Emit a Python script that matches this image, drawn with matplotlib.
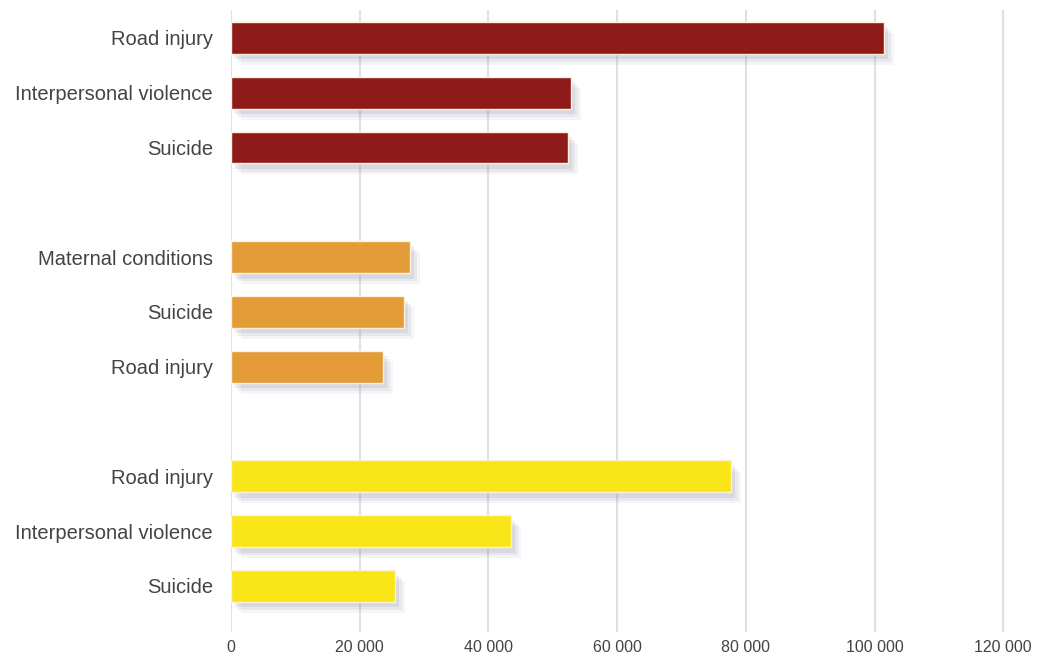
import matplotlib.pyplot as plt
import matplotlib.patheffects as pe
from matplotlib.ticker import FuncFormatter

# Deaths by cause, three groups (top to bottom)
labels = ["Road injury", "Interpersonal violence", "Suicide",
          "Maternal conditions", "Suicide", "Road injury",
          "Road injury", "Interpersonal violence", "Suicide"]
values = [101500, 52850, 52400,
          27850, 26900, 23650,
          77700, 43500, 25500]
positions = [0, 1, 2, 4, 5, 6, 8, 9, 10]
group_colors = ["#8e1a1a"] * 3 + ["#e39c37"] * 3 + ["#f9e618"] * 3
xticks = [0, 20000, 40000, 60000, 80000, 100000, 120000]

plt.rcParams['font.family'] = ['Liberation Sans', 'DejaVu Sans']

fig = plt.figure(figsize=(10.38, 6.62), dpi=100)
ax = fig.add_axes([0.2225, 0.0453, 0.775, 0.939])

# soft drop shadow below the bars
shadow = [pe.SimplePatchShadow(offset=(7, -8), shadow_rgbFace='#8888a0', alpha=0.08),
          pe.SimplePatchShadow(offset=(5, -6), shadow_rgbFace='#8888a0', alpha=0.12),
          pe.SimplePatchShadow(offset=(3, -4), shadow_rgbFace='#8888a0', alpha=0.15),
          pe.Normal()]

bars = ax.barh(positions, values, height=0.58, color=group_colors,
               edgecolor='#fff1d8', linewidth=1, zorder=3)
for b in bars:
    b.set_path_effects(shadow)

ax.set_yticks(positions)
ax.set_yticklabels(labels, fontsize=14.5, color='#444444')
ax.set_xticks(xticks)
ax.xaxis.set_major_formatter(FuncFormatter(lambda v, p: f"{int(v):,}".replace(",", " ")))
ax.tick_params(axis='x', labelsize=11.5, colors='#444444', length=0, pad=6)
ax.tick_params(axis='y', length=0, pad=13)

ax.set_xlim(0, 125000)
ax.set_ylim(10.84, -0.5)
ax.grid(axis='x', color='#e0e0e0', linewidth=1.5, zorder=0)
ax.set_axisbelow(True)
for s in ax.spines.values():
    s.set_visible(False)

fig.savefig("out.png", dpi=100)
